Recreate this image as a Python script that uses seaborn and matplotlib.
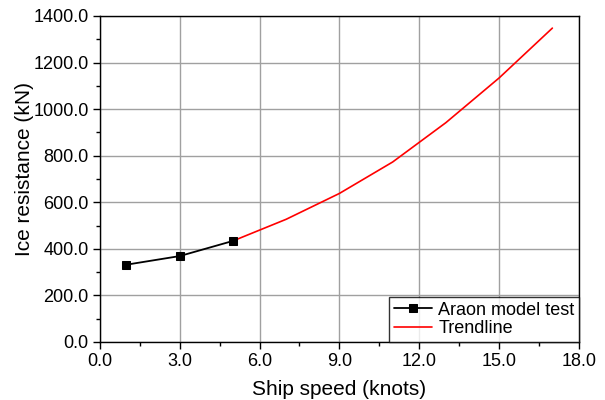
import pandas as pd
import numpy as np
import seaborn as sns
import matplotlib.pyplot as plt
from matplotlib.ticker import MultipleLocator, FormatStrFormatter

model_speed = [1, 3, 5]
model_resist = [332, 369, 434]
trend_speed = [5, 7, 9, 11, 13, 15, 17]
trend_resist = [434, 527, 638, 773, 942, 1134, 1348]

sns.set_style('white')
plt.rcParams['font.family'] = ['Liberation Sans', 'DejaVu Sans']
plt.rcParams['text.color'] = 'black'
plt.rcParams['axes.labelcolor'] = 'black'
plt.rcParams['xtick.color'] = 'black'
plt.rcParams['ytick.color'] = 'black'

fig = plt.figure(figsize=(6.05, 4.0), dpi=100)
ax = fig.add_axes([0.165, 0.145, 0.792, 0.815])

df_model = pd.DataFrame({'speed': model_speed, 'resist': model_resist})
df_trend = pd.DataFrame({'speed': trend_speed, 'resist': trend_resist})

sns.lineplot(data=df_model, x='speed', y='resist', ax=ax, color='black', lw=1.3,
             marker='s', markersize=6, markeredgecolor='black', label='Araon model test', zorder=4)
sns.lineplot(data=df_trend, x='speed', y='resist', ax=ax, color='red', lw=1.2,
             label='Trendline', zorder=3)

ax.set_xlim(0, 18)
ax.set_ylim(0, 1400)
ax.xaxis.set_major_locator(MultipleLocator(3))
ax.xaxis.set_minor_locator(MultipleLocator(1.5))
ax.yaxis.set_major_locator(MultipleLocator(200))
ax.yaxis.set_minor_locator(MultipleLocator(100))
ax.xaxis.set_major_formatter(FormatStrFormatter('%.1f'))
ax.yaxis.set_major_formatter(FormatStrFormatter('%.1f'))
ax.grid(True, which='major', color='#a0a0a0', lw=1.0)
ax.tick_params(which='major', direction='out', length=5, width=1, labelsize=13,
               bottom=True, left=True, color='black', pad=3)
ax.tick_params(which='minor', direction='out', length=3, width=1,
               bottom=True, left=True, color='black')
for s in ax.spines.values():
    s.set_color('black')
    s.set_linewidth(1.0)

ax.set_xlabel('Ship speed (knots)', fontsize=15, labelpad=7)
ax.set_ylabel('Ice resistance (kN)', fontsize=15)
ax.yaxis.set_label_coords(-0.138, 0.53)

leg = ax.legend(loc='lower right', fontsize=13, frameon=True, fancybox=False,
                borderaxespad=0, handlelength=2.1, handletextpad=0.35,
                borderpad=0.25, labelspacing=0.1)
leg.get_frame().set_edgecolor('black')
leg.get_frame().set_linewidth(1.0)

plt.savefig('out.png', dpi=100)
